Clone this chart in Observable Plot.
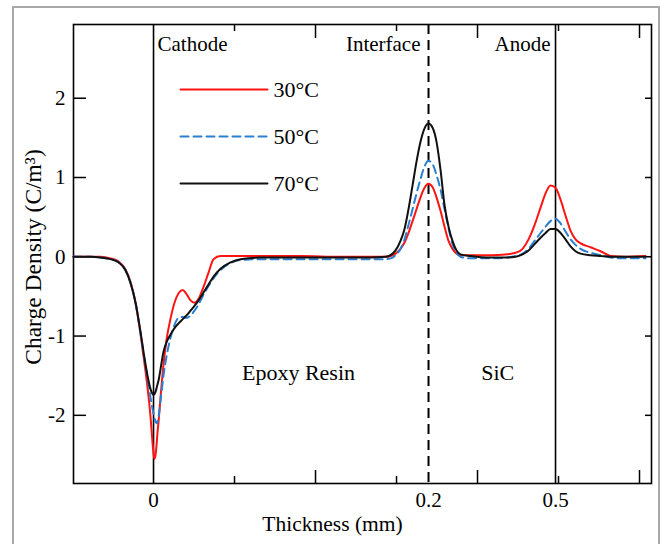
<!DOCTYPE html>
<html>
<head>
<meta charset="utf-8">
<script src="https://cdn.jsdelivr.net/npm/d3@7"></script>
<script src="https://cdn.jsdelivr.net/npm/@observablehq/plot@0.6"></script>
<style>
  html, body { margin: 0; padding: 0; background: #fff; }
  #wrap { position: relative; width: 665px; height: 544px; overflow: hidden; }
  #wrap svg { position: absolute; left: 0; top: 0; }
  #border { position: absolute; left: 12px; top: 6px; width: 648px; height: 600px;
            border: 2px solid #a8a8a8; box-sizing: border-box; pointer-events: none; }
</style>
</head>
<body>
<div id="wrap"><div id="border"></div></div>
<script>
// Position along the thickness axis, in units of the minor tick spacing (0 = cathode)
const position = [
  -0.988, -0.778, -0.654, -0.531, -0.432, -0.346, -0.284, -0.222, -0.160, -0.111,
  -0.074, -0.037, -0.012, 0.000, 0.012, 0.025, 0.037, 0.049, 0.062, 0.086,
  0.123, 0.160, 0.210, 0.259, 0.309, 0.358, 0.407, 0.457, 0.506, 0.556,
  0.617, 0.679, 0.741, 0.827, 0.951, 1.074, 1.321, 1.815, 2.309, 2.679,
  2.864, 2.926, 2.988, 3.049, 3.099, 3.148, 3.198, 3.247, 3.296, 3.346,
  3.395, 3.444, 3.494, 3.543, 3.593, 3.642, 3.691, 3.741, 3.790, 3.914,
  4.160, 4.346, 4.469, 4.556, 4.630, 4.704, 4.778, 4.840, 4.901, 4.963,
  5.025, 5.086, 5.148, 5.210, 5.272, 5.395, 5.519, 5.642, 5.827, 6.074
];
const charge30 = [
  0, 0, 0, -0.02, -0.06, -0.16, -0.32, -0.58, -0.98, -1.35,
  -1.65, -2.02, -2.35, -2.48, -2.55, -2.5, -2.38, -2.22, -2.08, -1.78,
  -1.36, -1.05, -0.78, -0.58, -0.46, -0.42, -0.47, -0.55, -0.58, -0.53,
  -0.38, -0.2, -0.03, 0.01, 0.01, 0.01, 0.01, 0.01, 0.0, 0.0,
  0.0, 0.01, 0.04, 0.1, 0.18, 0.3, 0.45, 0.6, 0.75, 0.87,
  0.92, 0.88, 0.75, 0.58, 0.38, 0.2, 0.1, 0.04, 0.02, 0.02,
  0.02, 0.03, 0.05, 0.1, 0.22, 0.4, 0.62, 0.8, 0.9, 0.87,
  0.72, 0.52, 0.33, 0.22, 0.17, 0.12, 0.07, 0.01, 0.0, 0.01
];
const charge50 = [
  0, 0, -0.01, -0.03, -0.07, -0.17, -0.33, -0.58, -0.97, -1.3,
  -1.53, -1.78, -1.92, -1.98, -2.04, -2.08, -2.1, -2.08, -2.02, -1.82,
  -1.5, -1.26, -1.02, -0.86, -0.77, -0.76, -0.77, -0.74, -0.68, -0.6,
  -0.48, -0.37, -0.27, -0.17, -0.08, -0.04, -0.03, -0.03, -0.03, -0.03,
  -0.03, -0.02, 0.02, 0.1, 0.22, 0.4, 0.6, 0.8, 0.98, 1.14,
  1.21, 1.17, 1.03, 0.85, 0.6, 0.36, 0.16, 0.05, 0.0, -0.02,
  -0.02, -0.01, 0.01, 0.04, 0.1, 0.2, 0.3, 0.38, 0.45, 0.48,
  0.42, 0.32, 0.22, 0.15, 0.1, 0.05, 0.02, -0.01, -0.02, -0.02
];
const charge70 = [
  0, 0, -0.01, -0.03, -0.07, -0.17, -0.33, -0.58, -0.95, -1.28,
  -1.5, -1.67, -1.73, -1.74, -1.73, -1.7, -1.66, -1.61, -1.56, -1.42,
  -1.2, -1.08, -0.98, -0.9, -0.84, -0.79, -0.74, -0.68, -0.62, -0.55,
  -0.45, -0.35, -0.25, -0.15, -0.07, -0.03, -0.01, -0.01, -0.01, -0.01,
  0.0, 0.02, 0.08, 0.2, 0.35, 0.6, 0.9, 1.2, 1.45, 1.62,
  1.68, 1.63, 1.45, 1.1, 0.65, 0.38, 0.2, 0.08, 0.03, 0.01,
  -0.01, -0.01, 0.0, 0.03, 0.08, 0.16, 0.24, 0.3, 0.35, 0.35,
  0.3, 0.22, 0.13, 0.07, 0.04, 0.02, 0.01, 0, 0, 0
];

const seriesNames = ["30°C", "50°C", "70°C"];
const seriesColors = ["#ff1414", "#2a7fd0", "#111111"];
const seriesDash = [null, "8,5", null];

const boundaryPos = [0, 3.395, 4.963];       // cathode, interface, anode
const boundaryNames = ["Cathode", "Interface", "Anode"];
const xTickLabels = ["0", "0.2", "0.5"];
const minorTicks = [1, 3, 5];
const majorTicks = [2, 4, 6];
const yTicks = [-2, -1, 0, 1, 2];
const regionNames = ["Epoxy Resin", "SiC"];
const regionPos = [1.79, 4.25];

const W = 665, H = 544;
const mL = 73, mR = 14, mT = 24, mB = 61;
const PW = W - mL - mR, PH = H - mT - mB;

const rows = [];
[charge30, charge50, charge70].forEach((arr, s) => {
  arr.forEach((v, i) => rows.push({x: position[i], y: v, s: seriesNames[s]}));
});

const legendY = [2.11, 1.517, 0.924];
const legendX1 = 0.333, legendX2 = 1.407, legendTextX = 1.48;
const font = "'Liberation Serif', 'Times New Roman', serif";

const marks = [
  Plot.frame({stroke: "#000", strokeWidth: 1.6}),
  // inward ticks
  Plot.ruleX(minorTicks, {stroke: "#000", strokeWidth: 1.5, insetTop: PH - 7}),
  Plot.ruleX(majorTicks, {stroke: "#000", strokeWidth: 1.5, insetTop: PH - 13}),
  Plot.ruleX(minorTicks, {stroke: "#000", strokeWidth: 1.5, insetBottom: PH - 7}),
  Plot.ruleX(majorTicks, {stroke: "#000", strokeWidth: 1.5, insetBottom: PH - 14}),
  Plot.ruleY(yTicks, {stroke: "#000", strokeWidth: 1.5, insetRight: PW - 13}),
  Plot.ruleY(yTicks, {stroke: "#000", strokeWidth: 1.5, insetLeft: PW - 6}),
  // boundaries
  Plot.ruleX([boundaryPos[0], boundaryPos[2]], {stroke: "#000", strokeWidth: 1.6}),
  Plot.ruleX([boundaryPos[1]], {stroke: "#000", strokeWidth: 2, strokeDasharray: "10,6"}),
];

seriesNames.forEach((name, s) => {
  marks.push(Plot.line(rows.filter(d => d.s === name), {
    x: "x", y: "y", stroke: seriesColors[s], strokeWidth: 2,
    strokeDasharray: seriesDash[s], curve: "monotone-x"
  }));
  marks.push(Plot.line([{x: legendX1, y: legendY[s]}, {x: legendX2, y: legendY[s]}], {
    x: "x", y: "y", stroke: seriesColors[s], strokeWidth: 2, strokeDasharray: seriesDash[s]
  }));
});

const boundaryLabelAnchor = ["start", "end", "end"];
const boundaryLabelDx = [4, -8, -5];
boundaryNames.forEach((name, i) => {
  marks.push(Plot.text([name], {x: boundaryPos[i], frameAnchor: "top", text: d => d,
    textAnchor: boundaryLabelAnchor[i], lineAnchor: "middle", dx: boundaryLabelDx[i],
    dy: 20, fontSize: 21, fill: "#000"}));
});

marks.push(
  Plot.text(seriesNames, {x: legendTextX, y: (d, i) => legendY[i], text: d => d,
    textAnchor: "start", fontSize: 22, fill: "#000"}),
  Plot.text(yTicks, {y: d => d, frameAnchor: "left", text: d => String(d),
    textAnchor: "end", lineAnchor: "middle", dx: -8, fontSize: 21, fill: "#000"}),
  Plot.text(xTickLabels, {x: (d, i) => boundaryPos[i], frameAnchor: "bottom", text: d => d,
    lineAnchor: "middle", dy: 17, fontSize: 21, fill: "#000"}),
  Plot.text(regionNames, {x: (d, i) => regionPos[i], y: -1.46, text: d => d,
    fontSize: 22, fill: "#000"}),
  Plot.text(["Thickness (mm)"], {frameAnchor: "bottom", text: d => d, lineAnchor: "middle",
    dy: 41, dx: -30, fontSize: 21.5, fill: "#000"}),
  Plot.text(["Charge Density (C/m³)"], {frameAnchor: "left", text: d => d, rotate: -90,
    textAnchor: "middle", lineAnchor: "middle", dx: -40, dy: 3, fontSize: 23.5, fill: "#000"})
);

const chart = Plot.plot({
  width: W, height: H,
  marginLeft: mL, marginRight: mR, marginTop: mT, marginBottom: mB,
  style: {fontFamily: font, background: "#fff", overflow: "visible"},
  x: {domain: [-0.988, 6.148], axis: null},
  y: {domain: [-2.86, 2.93], axis: null},
  marks
});
document.getElementById("wrap").insertBefore(chart, document.getElementById("border"));
</script>
</body>
</html>
